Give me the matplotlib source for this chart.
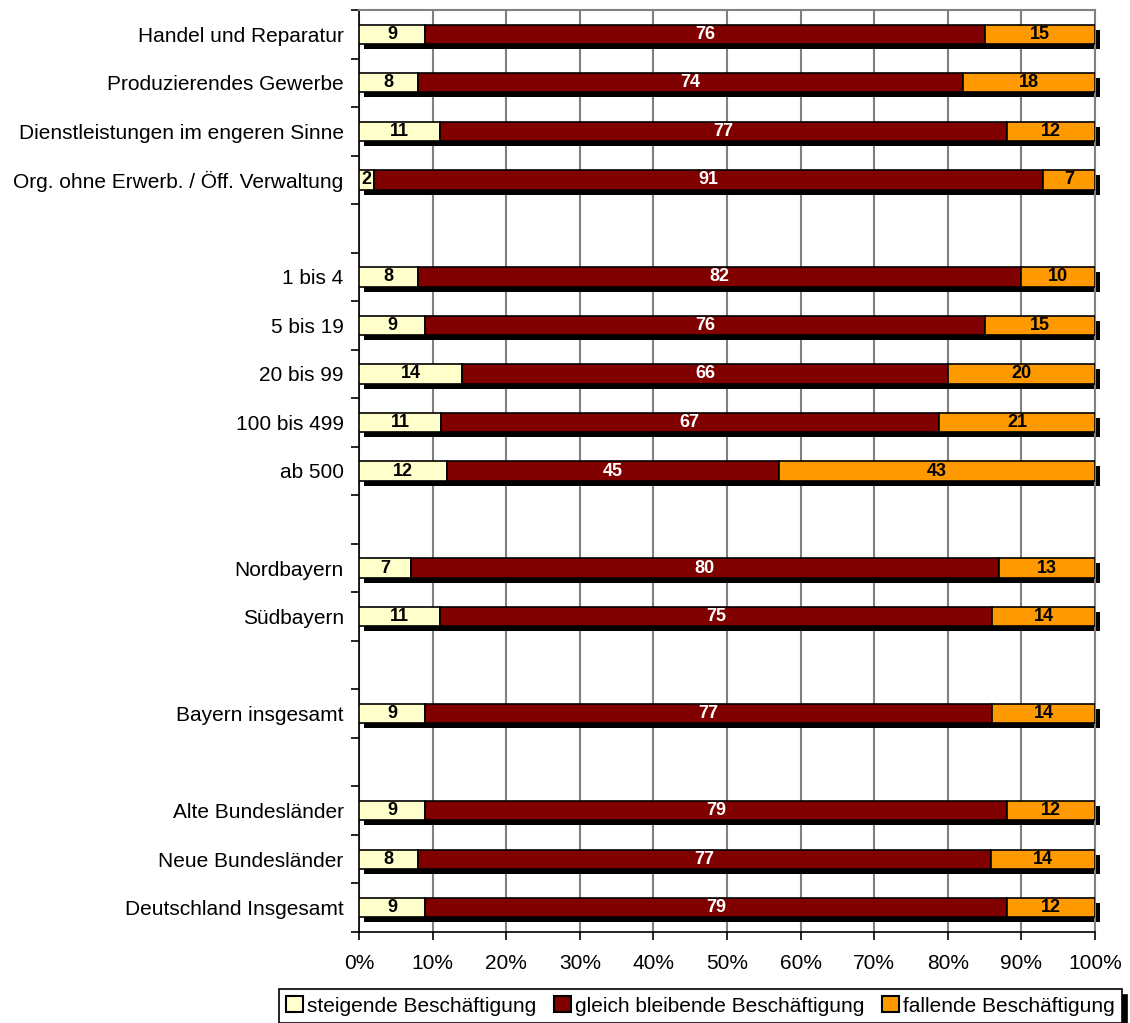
import numpy as np
import matplotlib.pyplot as plt
import matplotlib.transforms as mtransforms
from matplotlib.patches import Patch

plt.rcParams['font.family'] = ['Liberation Sans', 'DejaVu Sans']

# rows from top to bottom, "" = empty spacer row
categories = ["Handel und Reparatur", "Produzierendes Gewerbe",
              "Dienstleistungen im engeren Sinne",
              "Org. ohne Erwerb. / Öff. Verwaltung", "",
              "1 bis 4", "5 bis 19", "20 bis 99", "100 bis 499", "ab 500", "",
              "Nordbayern", "Südbayern", "", "Bayern insgesamt", "",
              "Alte Bundesländer", "Neue Bundesländer", "Deutschland Insgesamt"]
steigend = [9, 8, 11, 2, None, 8, 9, 14, 11, 12, None, 7, 11, None, 9, None, 9, 8, 9]
gleich = [76, 74, 77, 91, None, 82, 76, 66, 67, 45, None, 80, 75, None, 77, None, 79, 77, 79]
fallend = [15, 18, 12, 7, None, 10, 15, 20, 21, 43, None, 13, 14, None, 14, None, 12, 14, 12]

series_names = ["steigende Beschäftigung", "gleich bleibende Beschäftigung",
                "fallende Beschäftigung"]
colors = ["#FFFFCC", "#800000", "#FF9900"]
text_colors = ["black", "white", "black"]

fig = plt.figure(figsize=(11.3, 10.23), dpi=100)
ax = fig.add_axes([359 / 1130, 1 - 932 / 1023, (1095 - 359) / 1130, (932 - 10) / 1023])

rows = [i for i, v in enumerate(steigend) if v is not None]
vals = np.array([[steigend[i], gleich[i], fallend[i]] for i in rows], dtype=float)
pct = vals / vals.sum(axis=1, keepdims=True) * 100
y = np.array(rows, dtype=float)
h = 0.4

# black drop shadow behind each bar
shadow_tr = ax.transData + mtransforms.ScaledTranslation(5 / 100, -5 / 100, fig.dpi_scale_trans)
shadows = ax.barh(y, pct.sum(axis=1), height=h, color='black', transform=shadow_tr, zorder=2)
for p in shadows:
    p.set_clip_on(False)

left = np.zeros(len(rows))
for k in range(3):
    ax.barh(y, pct[:, k], left=left, height=h, color=colors[k],
            edgecolor='black', linewidth=1.2, zorder=3)
    for j in range(len(rows)):
        ax.text(left[j] + pct[j, k] / 2, y[j], str(int(vals[j, k])),
                ha='center', va='center', fontsize=13, fontweight='bold',
                color=text_colors[k], zorder=4)
    left += pct[:, k]

ax.set_xlim(0, 100)
ax.set_ylim(len(categories) - 0.5, -0.5)

ax.set_xticks(np.arange(0, 101, 10))
ax.set_xticklabels([f"{t}%" for t in range(0, 101, 10)], fontsize=15)
ax.tick_params(axis='x', length=6, width=1.2, pad=10)

ax.set_yticks(np.arange(len(categories)))
ax.set_yticklabels(categories, fontsize=15)
ax.set_yticks(np.arange(len(categories) + 1) - 0.5, minor=True)
ax.tick_params(axis='y', which='major', length=0, pad=11)
ax.tick_params(axis='y', which='minor', length=6, width=1.2)

ax.grid(axis='x', color='#808080', linewidth=1.5, zorder=1)
ax.set_axisbelow(True)
for s in ['top', 'right']:
    ax.spines[s].set_color('#808080')
    ax.spines[s].set_linewidth(1.5)
for s in ['left', 'bottom']:
    ax.spines[s].set_color('black')
    ax.spines[s].set_linewidth(1.2)

handles = [Patch(facecolor=c, edgecolor='black', linewidth=1.5) for c in colors]
leg = fig.legend(handles, series_names, loc='upper left', ncol=3,
                 bbox_to_anchor=(279 / 1130, 1 - 989 / 1023), fontsize=15,
                 frameon=True, fancybox=False, edgecolor='black',
                 handlelength=0.8, handleheight=0.8, handletextpad=0.2,
                 columnspacing=0.85, borderpad=0.35, borderaxespad=0,
                 shadow={'color': 'black', 'alpha': 1, 'ox': 4, 'oy': -4})
leg.get_frame().set_linewidth(1.2)

fig.savefig('out.png', dpi=100)
